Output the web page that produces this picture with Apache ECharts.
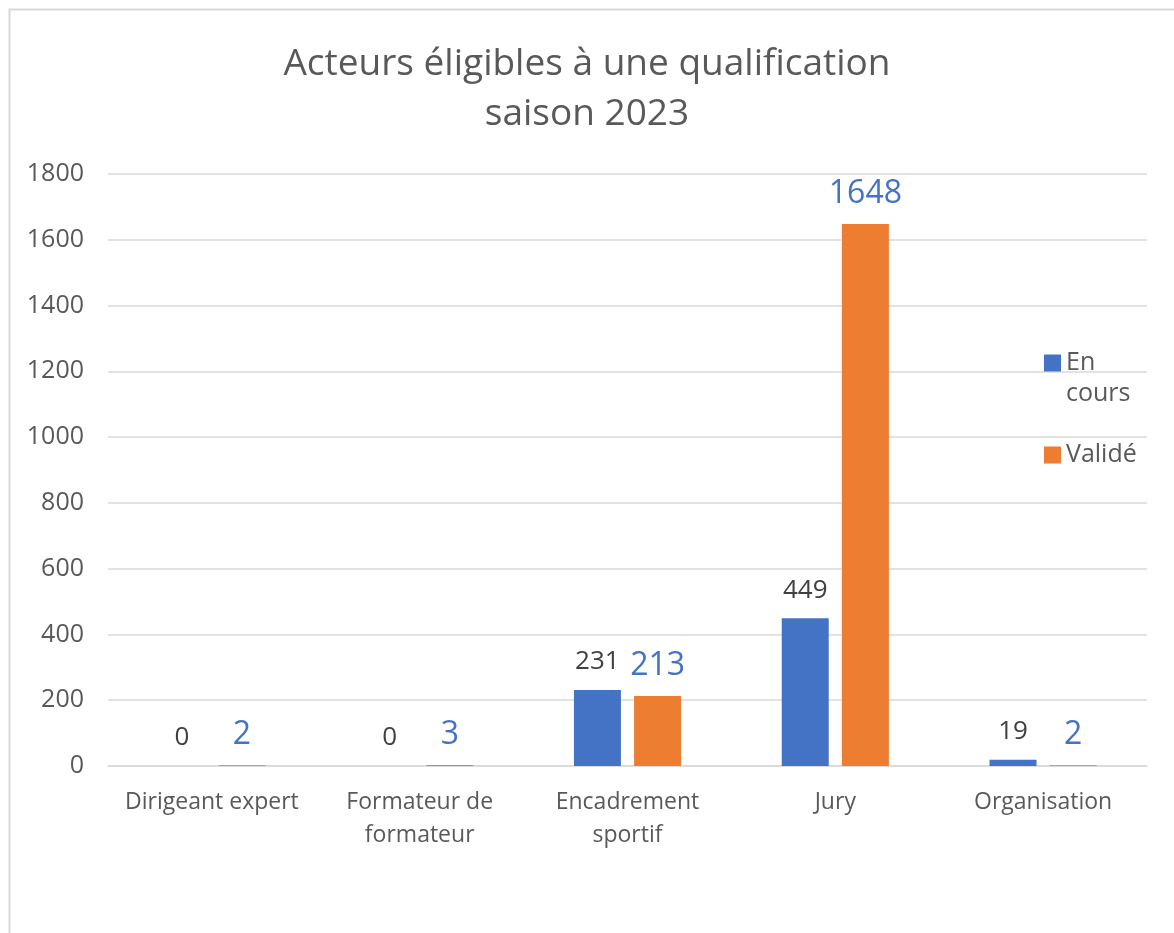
<!DOCTYPE html>
<html>
<head>
<meta charset="utf-8">
<script src="https://cdn.jsdelivr.net/npm/echarts@6/dist/echarts.min.js"></script>
<style>
  html, body { margin: 0; padding: 0; background: #fff; }
  #chart { width: 1174px; height: 933px; }
</style>
</head>
<body>
<div id="chart"></div>
<script>
// categories and values
var categories = ['Dirigeant expert', 'Formateur de\nformateur', 'Encadrement\nsportif', 'Jury', 'Organisation'];
var enCours = [0, 0, 231, 449, 19];
var valide = [2, 3, 213, 1648, 2];
var yTicks = { min: 0, max: 1800, interval: 200 };

var font = '"Open Sans"';
var grey = '#595959';

var myChart = echarts.init(document.getElementById('chart'));
var option = {
    animation: false,
    textStyle: { fontFamily: font },
    title: {
        text: 'Acteurs éligibles à une qualification\nsaison 2023',
        left: 'center',
        top: 34,
        textStyle: {
            fontFamily: font,
            fontSize: 37,
            fontWeight: 'normal',
            color: grey,
            lineHeight: 50
        }
    },
    graphic: [
        {
            type: 'rect',
            shape: { x: 9.5, y: 9.5, width: 1200, height: 960 },
            style: { fill: 'none', stroke: '#d9d9d9', lineWidth: 2 },
            silent: true
        },
        {
            // second line of the "En cours" legend entry
            type: 'text',
            x: 1066,
            y: 394,
            style: { text: 'cours', fontFamily: font, fontSize: 25, fill: grey, verticalAlign: 'middle' },
            silent: true
        }
    ],
    legend: {
        orient: 'vertical',
        left: 1039,
        top: 343,
        itemWidth: 17,
        itemHeight: 17,
        itemGap: 62,
        icon: 'rect',
        textStyle: { fontFamily: font, fontSize: 25, color: grey, lineHeight: 30 },
        data: ['En cours', 'Validé'],
        formatter: function (name) {
            return name == 'En cours' ? 'En' : name;
        }
    },
    grid: {
        left: 108,
        right: 27,
        top: 174,
        bottom: 167
    },
    xAxis: [{
        type: 'category',
        data: categories,
        axisLine: { lineStyle: { color: '#d9d9d9', width: 1.5 } },
        axisTick: { show: false },
        axisLabel: {
            fontFamily: font,
            fontSize: 23,
            color: grey,
            lineHeight: 33,
            margin: 20,
            interval: 0
        }
    }],
    yAxis: [{
        type: 'value',
        min: yTicks.min,
        max: yTicks.max,
        interval: yTicks.interval,
        axisLine: { show: false },
        axisTick: { show: false },
        axisLabel: {
            fontFamily: font,
            fontSize: 25,
            color: grey,
            margin: 24,
            formatter: function (v) { return String(v); }
        },
        splitLine: { lineStyle: { color: '#d9d9d9', width: 1.5 } }
    }],
    series: [
        {
            name: 'En cours',
            type: 'bar',
            data: enCours,
            barWidth: 47,
            barGap: '28%',
            itemStyle: { color: '#4472C4' },
            label: {
                show: true,
                position: 'top',
                distance: 15,
                fontFamily: font,
                fontSize: 26,
                color: '#404040'
            }
        },
        {
            name: 'Validé',
            type: 'bar',
            data: valide,
            barWidth: 47,
            itemStyle: { color: '#ED7D31' },
            label: {
                show: true,
                position: 'top',
                distance: 14,
                fontFamily: font,
                fontSize: 32,
                color: '#4472C4'
            }
        }
    ]
};

myChart.setOption(option);
</script>
</body>
</html>
